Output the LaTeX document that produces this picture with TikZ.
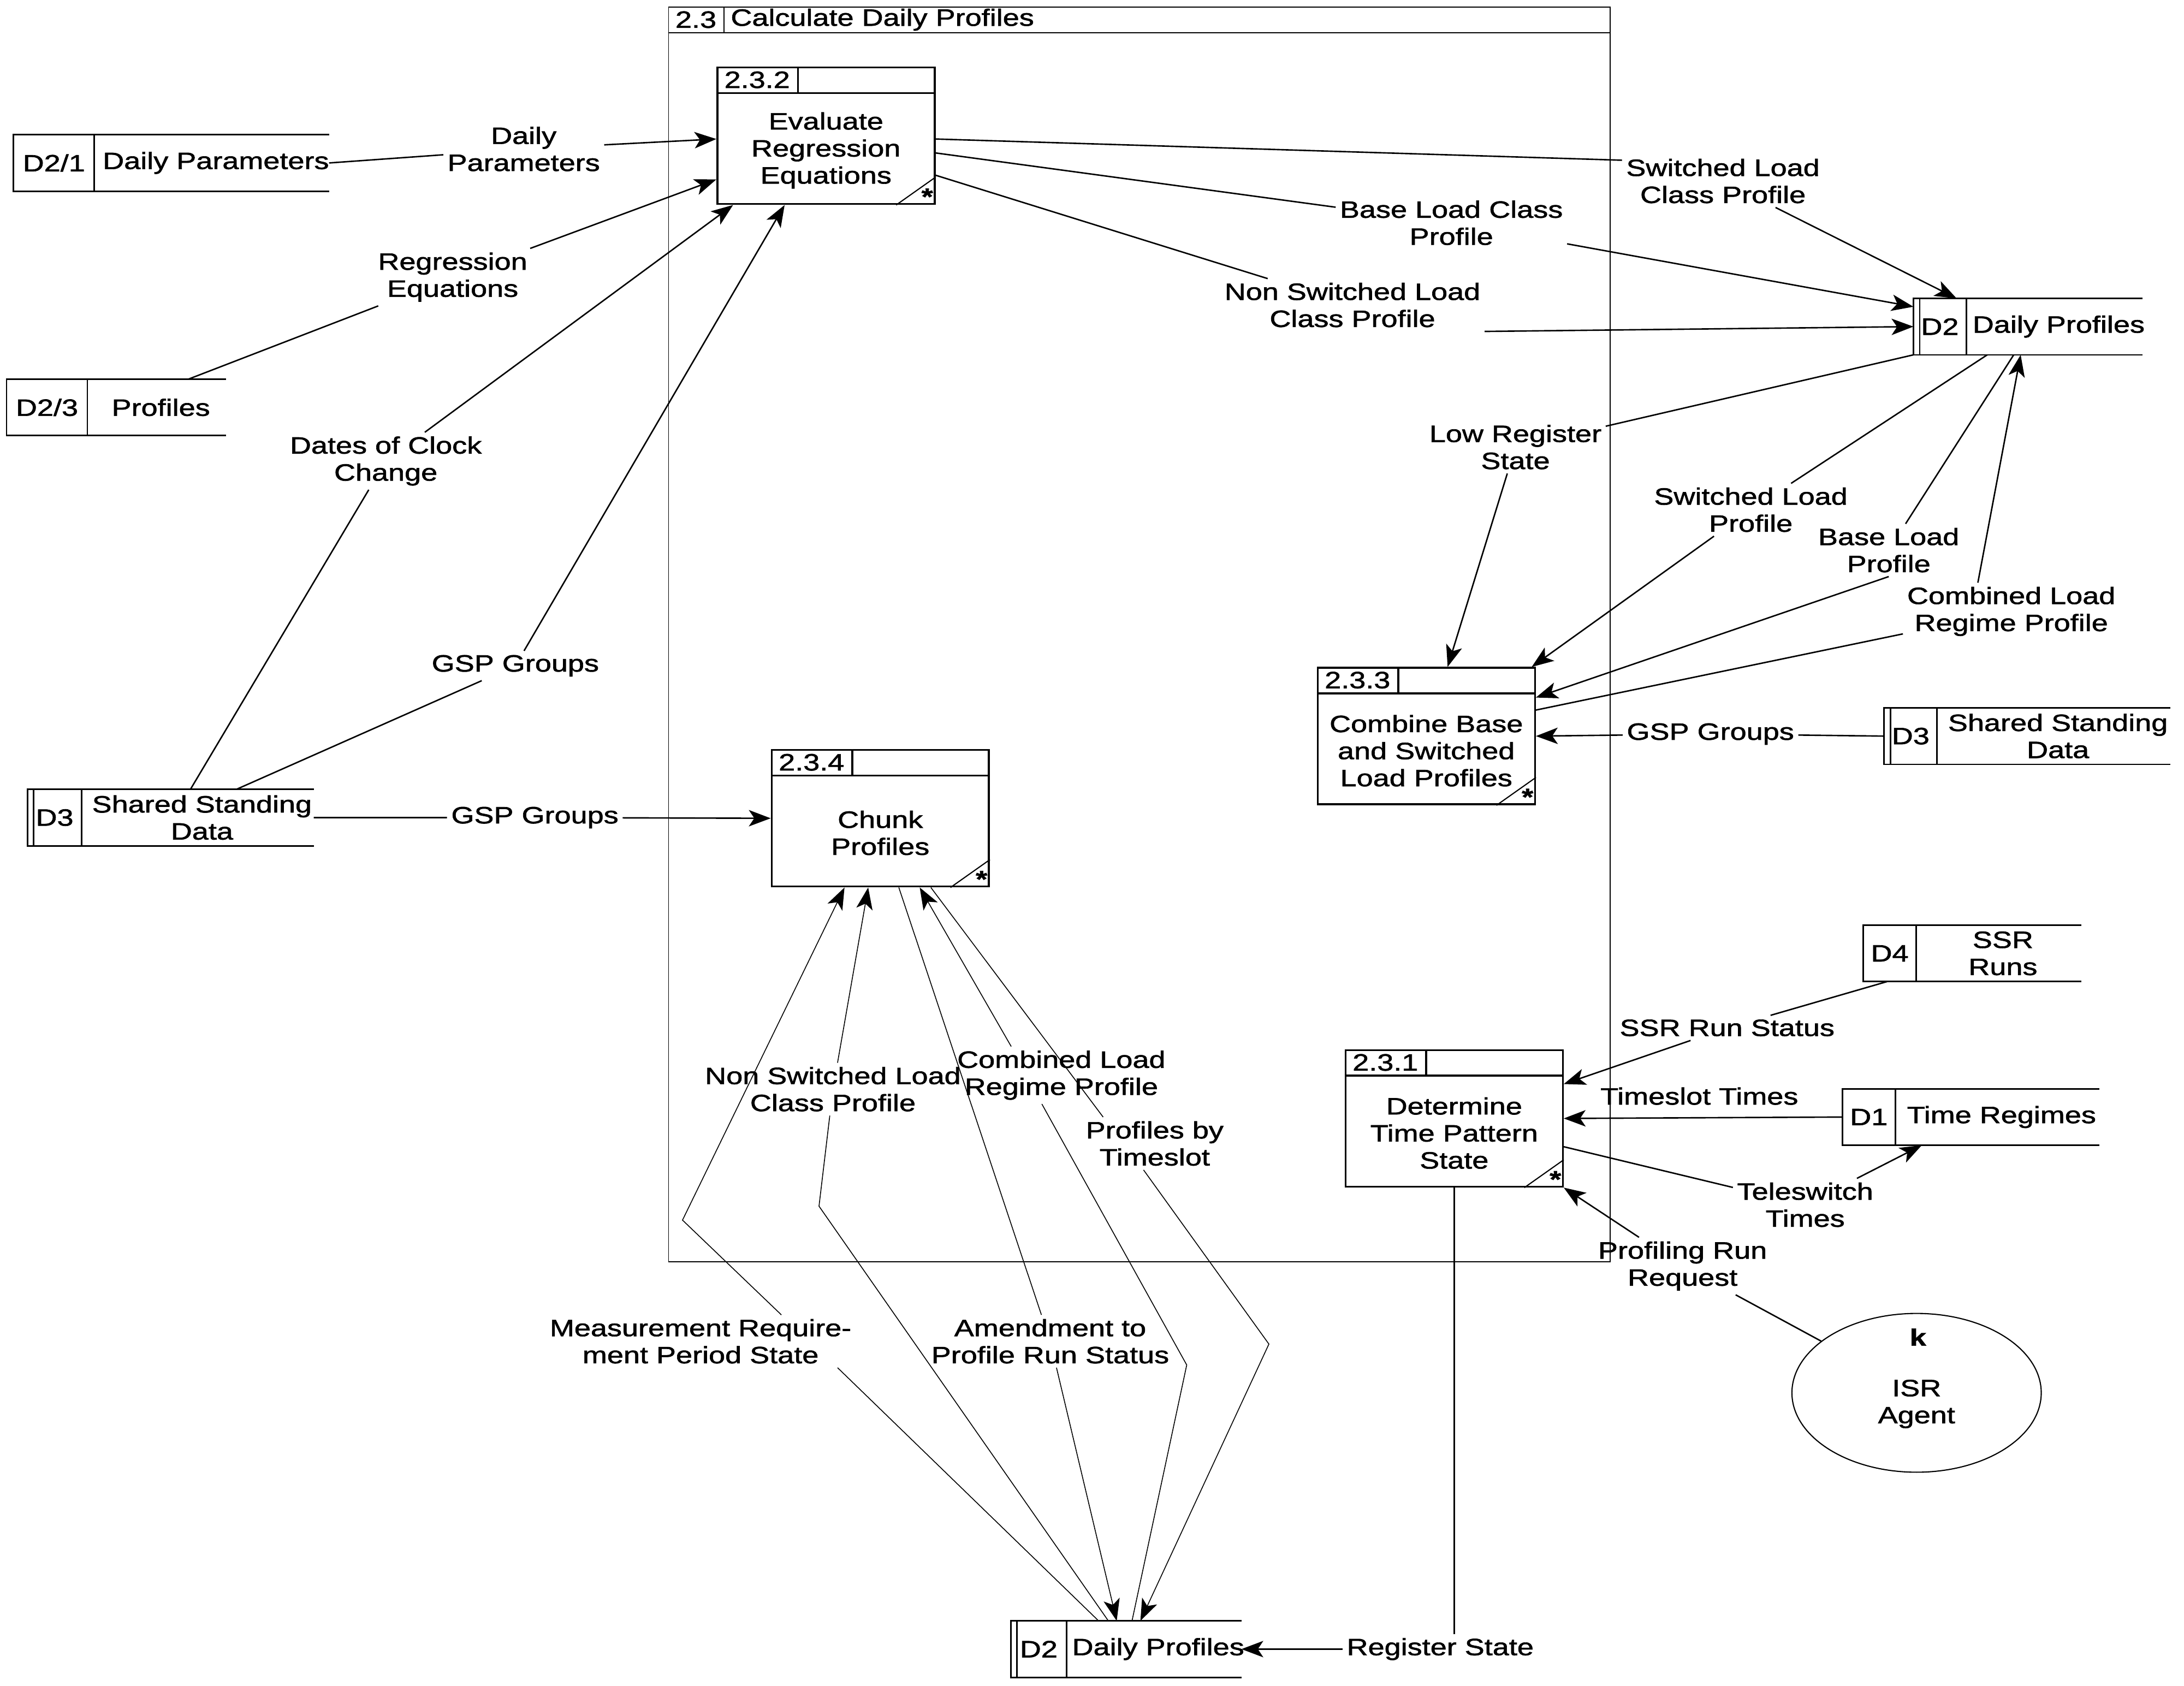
\documentclass[tikz,border=0pt]{standalone}
\usepackage{fontspec}
\setmainfont{Liberation Sans}[FakeStretch=1.25,FakeBold=1.5]
\usetikzlibrary{arrows.meta,positioning,calc,shapes.geometric}
\newlength\unitpx
\setlength\unitpx{0.02551cm}

\begin{document}
\begin{tikzpicture}[
  x=0.02551cm, y=-0.02551cm,
  font=\fontsize{12.3}{14.1}\selectfont,
  every node/.style={inner sep=2pt},
  flow/.style={-{Stealth[length=0.4cm,width=0.3cm,inset=0.1cm]}, line width=0.75pt},
  thinflow/.style={flow, line width=0.45pt},
  boxline/.style={line width=1pt},
  storeline/.style={line width=0.8pt},
  outer/.style={draw, line width=0.55pt, minimum width=676*\unitpx, minimum height=901*\unitpx, inner sep=0pt},
  proc/.style={draw, boxline, minimum width=156*\unitpx, minimum height=98*\unitpx, inner sep=0pt},
  store/.style={minimum height=40*\unitpx, inner sep=0pt},
  agent/.style={draw, ellipse, line width=0.6pt, minimum width=179*\unitpx, minimum height=114*\unitpx, inner sep=0pt},
  lbl/.style={align=center}
]
\useasboundingbox (0,0) rectangle (1568,1210.4);

% process 2.3 frame
\node[outer] (p23) at (818,455.5) {};
\draw[line width=0.55pt] ($(p23.north west)+(0,19)$) -- ($(p23.north east)+(0,19)$)
  ($(p23.north west)+(40,0)$) -- ($(p23.north west)+(40,19)$);
\node (p23id) at ($(p23.north west)+(20,9.5)$) {2.3};
\node[anchor=west] (p23name) at ($(p23.north west)+(42,9.5)$) {Calculate Daily Profiles};

% processes
\foreach \nm/\x/\y/\id/\ptext in {
  p232/593/97.5/2.3.2/{Evaluate\\Regression\\Equations},
  p233/1024/528.5/2.3.3/{Combine Base\\and Switched\\Load Profiles},
  p234/632/587.5/2.3.4/{Chunk\\Profiles},
  p231/1044/803/2.3.1/{Determine\\Time Pattern\\State}} {
  \node[proc] (\nm) at (\x,\y) {};
  \draw[boxline] ($(\nm.north west)+(0,19)$) -- ($(\nm.north east)+(0,19)$)
    ($(\nm.north west)+(58.6,0)$) -- ($(\nm.north west)+(58.6,19)$);
  \node (\nm-id) at ($(\nm.north west)+(29.3,9.5)$) {\id};
  \node[align=center] (\nm-txt) at ($(\nm.center)+(0,10.5)$) {\ptext};
  \draw[line width=0.6pt] ($(\nm.south east)+(-28.3,0)$) -- ($(\nm.south east)+(0,-20)$);
  \node[font=\fontsize{12.3}{14.1}\selectfont\bfseries] (\nm-star) at ($(\nm.south east)+(-6,-6)$) {*};
}

% data stores
\foreach \nm/\x/\y/\w/\iw/\id/\sname/\dbl in {
  d21/123/117/226/58/{D2/1}/{Daily Parameters}/0,
  d23/83.5/292.5/157/58/{D2/3}/{Profiles}/0,
  d3a/122.5/587/205/39/D3/{Shared Standing\\Data}/1,
  d2a/1456/234.5/164/38/D2/{Daily Profiles}/1,
  d3b/1455.5/528.5/205/38/D3/{Shared Standing\\Data}/1,
  d4/1416/684.5/156/38/D4/{SSR\\Runs}/0,
  d1/1415/802/184/38/D1/{Time Regimes}/0,
  d2b/808.5/1184/165/40/D2/{Daily Profiles}/1} {
  \node[store, minimum width=\w*\unitpx] (\nm) at (\x,\y) {};
  \draw[storeline] (\nm.north east) -- (\nm.north west) -- (\nm.south west) -- (\nm.south east)
    ($(\nm.north west)+(\iw,0)$) -- ($(\nm.south west)+(\iw,0)$);
  \ifnum\dbl=1
    \draw[storeline] ($(\nm.north west)+(4.5,0)$) -- ($(\nm.south west)+(4.5,0)$);
  \fi
  \node (\nm-id) at ($(\nm.west)+(\iw/2,0)$) {\id};
  \node[align=center] (\nm-txt) at ($(\nm.center)+(\iw/2+3,0)$) {\sname};
}

% external agent
\node[agent] (isr) at (1376,1000) {};
\node[font=\fontsize{12.3}{14.1}\selectfont\bfseries] (isrk) at (1377,960) {k};
\node[align=center] (isrname) at (1376,1008) {ISR\\Agent};

% flow labels
\node[lbl] (lab1) at (376,107) {Daily\\Parameters};
\node[lbl] (lab2) at (325,199) {Regression\\Equations};
\node[lbl] (lab3) at (277,331) {Dates of Clock\\Change};
\node[lbl] (lab4) at (370,478) {GSP Groups};
\node[lbl] (lab5) at (384,587) {GSP Groups};
\node[lbl] (lab6) at (1237,130) {Switched Load\\Class Profile};
\node[lbl] (lab7) at (1042,160) {Base Load Class\\Profile};
\node[lbl] (lab8) at (971,219) {Non Switched Load\\Class Profile};
\node[lbl] (lab9) at (1088,321) {Low Register\\State};
\node[lbl] (lab10) at (1257,366) {Switched Load\\Profile};
\node[lbl] (lab11) at (1356,395) {Base Load\\Profile};
\node[lbl] (lab12) at (1444,439) {Combined Load\\Regime Profile};
\node[lbl] (lab13) at (1228,527) {GSP Groups};
\node[lbl] (lab14) at (1240,738) {SSR Run Status};
\node[lbl] (lab15) at (1220,787) {Timeslot Times};
\node[lbl] (lab16) at (1296,865) {Teleswitch\\Times};
\node[lbl] (lab17) at (1208,909) {Profiling Run\\Request};
\node[lbl] (lab18) at (1034,1184) {Register State};
\node[lbl] (lab19) at (503,963) {Measurement Require-\\ment Period State};
\node[lbl] (lab20) at (598,782) {Non Switched Load\\Class Profile};
\node[lbl] (lab21) at (754,963) {Amendment to\\Profile Run Status};
\node[lbl] (lab22) at (762,772) {Combined Load\\Regime Profile};
\node[lbl] (lab23) at (829,821) {Profiles by\\Timeslot};

% bends
\coordinate (m19) at (490,876);
\coordinate (m20) at (588,866);
\coordinate (m22) at (852,980);
\coordinate (m23) at (911,965);

% flows into and out of 2.3.2
\draw[flow] (d21.east) -- (lab1) -- ($(p232.north west)+(0,52)$);
\draw[flow] ($(d23.north east)+(-27,0)$) -- (lab2) -- ($(p232.north west)+(0,81)$);
\draw[flow] ($(d3a.north west)+(117,0)$) -- (lab3) -- ($(p232.south west)+(12,0)$);
\draw[flow] ($(d3a.north west)+(150,0)$) -- (lab4) -- ($(p232.south west)+(49,0)$);
\draw[flow] (d3a.east) -- (lab5) -- (p234.west);
\draw[flow] ($(p232.north east)+(0,52)$) -- ($(lab6.north west)+(0,4)$) (lab6) -- ($(d2a.north west)+(31,0)$);
\draw[flow] ($(p232.north east)+(0,62)$) -- (lab7) -- ($(d2a.north west)+(0,6)$);
\draw[flow] ($(p232.north east)+(0,78)$) -- (lab8) (lab8.south east) -- (d2a.west);

% flows round 2.3.3
\draw[flow] (d2a.south west) -- (lab9) -- ($(p233.north west)+(94,0)$);
\draw[flow] ($(d2a.south west)+(53,0)$) -- (lab10) -- ($(p233.north east)+(-3,0)$);
\draw[flow] ($(d2a.south west)+(72,0)$) -- (lab11) (lab11.south) -- ($(p233.north east)+(0,22)$);
\draw[flow] ($(p233.north east)+(0,31)$) -- (lab12) ($(lab12.north)+(-24,0)$) -- ($(d2a.south west)+(77,0)$);
\draw[flow] (d3b.west) -- (lab13) -- (p233.east);

% flows round 2.3.1
\draw[flow] ($(d4.south west)+(17,0)$) -- (lab14) -- ($(p231.north east)+(0,25)$);
\draw[flow] (d1.west) -- (p231.east);
\draw[flow] ($(p231.north east)+(0,70)$) -- (lab16) -- ($(d1.south west)+(57,0)$);
\draw[flow] (isr) -- (lab17) -- (p231.south east);
\draw[flow] (p231.south) -- (p231.south |- lab18.north) (lab18.west) -- (d2b.east);

% flows between 2.3.4 and D2
\draw[thinflow] ($(d2b.north west)+(63,0)$) -- ($(lab19.south east)+(-13,0)$)
  ($(lab19.north)+(58,0)$) -- (m19) -- ($(p234.south west)+(53,0)$);
\draw[thinflow] ($(d2b.north west)+(70,0)$) -- (m20) -- (lab20) -- ($(p234.south west)+(70,0)$);
\draw[thinflow] ($(p234.south west)+(92,0)$) -- (lab21) -- ($(d2b.north west)+(76,0)$);
\draw[thinflow] ($(d2b.north west)+(87,0)$) -- (m22) -- ($(lab22.south)+(-14,0)$)
  ($(lab22.north)+(-36,0)$) -- ($(p234.south west)+(107,0)$);
\draw[thinflow] ($(p234.south west)+(115,0)$) -- ($(lab23.north)+(-37,0)$)
  ($(lab23.south)+(-8,0)$) -- (m23) -- ($(d2b.north west)+(93,0)$);
\end{tikzpicture}
\end{document}
